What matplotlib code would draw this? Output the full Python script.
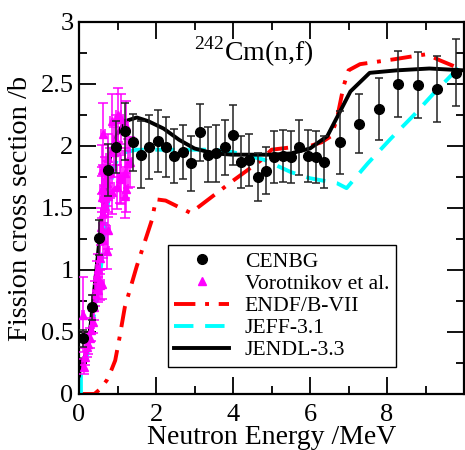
import matplotlib
matplotlib.use("Agg")
import matplotlib.pyplot as plt
from matplotlib.lines import Line2D
from matplotlib.ticker import MultipleLocator

plt.rcParams['font.family'] = ['Liberation Serif', 'DejaVu Serif']
plt.rcParams['mathtext.fontset'] = 'custom'
plt.rcParams['mathtext.rm'] = 'Liberation Serif'

# CENBG measurement
cenbg_e = [0.11, 0.34, 0.53, 0.75, 0.97, 1.19, 1.40, 1.62, 1.83, 2.05, 2.27, 2.48, 2.70,
           2.92, 3.14, 3.35, 3.57, 3.78, 4.00, 4.21, 4.42, 4.65, 4.87, 5.07, 5.29, 5.51,
           5.72, 5.94, 6.16, 6.37, 6.79, 7.28, 7.79, 8.29, 8.80, 9.29, 9.79]
cenbg_xs = [0.45, 0.70, 1.26, 1.81, 1.99, 2.12, 2.03, 1.93, 1.99, 2.04, 1.99, 1.92, 1.95,
            1.86, 2.11, 1.93, 1.94, 1.99, 2.09, 1.87, 1.89, 1.75, 1.80, 1.91, 1.92, 1.91,
            1.99, 1.92, 1.91, 1.87, 2.03, 2.18, 2.30, 2.50, 2.49, 2.46, 2.59]
cenbg_err = [0.07, 0.10, 0.14, 0.21, 0.21, 0.23, 0.23, 0.27, 0.26, 0.25, 0.24, 0.22, 0.22,
             0.22, 0.23, 0.22, 0.23, 0.22, 0.24, 0.21, 0.21, 0.19, 0.19, 0.21, 0.21, 0.21,
             0.22, 0.21, 0.21, 0.21, 0.255, 0.24, 0.25, 0.265, 0.265, 0.265, 0.27]

# Vorotnikov et al.
voro_e = [0.12, 0.16, 0.20, 0.24, 0.11, 0.28, 0.32, 0.36, 0.40, 0.42, 0.46, 0.50, 0.50,
          0.55, 0.59, 0.55, 0.63, 0.72, 0.58, 0.76, 0.63, 0.68, 0.59, 0.76, 0.59, 0.72,
          0.68, 0.85, 0.59, 0.80, 0.98, 1.06, 1.10, 1.19, 1.22, 1.28, 1.19, 1.32, 0.63,
          0.87, 1.02, 1.08, 1.22, 0.90, 0.75, 0.95]
voro_xs = [0.22, 0.30, 0.38, 0.40, 0.64, 0.45, 0.52, 0.58, 0.70, 0.81, 0.95, 1.01, 0.84,
           0.88, 0.89, 1.10, 1.24, 1.15, 1.35, 1.32, 1.46, 1.52, 1.59, 1.60, 1.65, 1.70,
           1.73, 1.63, 1.81, 1.78, 1.67, 1.74, 1.73, 1.60, 1.65, 1.86, 1.78, 1.87, 2.10,
           2.20, 2.25, 2.22, 2.16, 1.95, 1.90, 2.05]
voro_yerr = [0.06, 0.07, 0.08, 0.08, 0.30, 0.08, 0.09, 0.09, 0.10, 0.10, 0.12, 0.12, 0.10,
             0.12, 0.12, 0.13, 0.14, 0.14, 0.15, 0.15, 0.16, 0.16, 0.17, 0.17, 0.18, 0.18,
             0.18, 0.18, 0.20, 0.20, 0.18, 0.20, 0.20, 0.18, 0.18, 0.20, 0.20, 0.20, 0.25,
             0.22, 0.22, 0.20, 0.20, 0.20, 0.20, 0.20]
voro_xerr = [0.03, 0.03, 0.04, 0.04, 0.03, 0.04, 0.04, 0.04, 0.04, 0.05, 0.05, 0.05, 0.05,
             0.05, 0.05, 0.05, 0.05, 0.05, 0.05, 0.05, 0.05, 0.05, 0.05, 0.05, 0.05, 0.05,
             0.05, 0.05, 0.05, 0.05, 0.06, 0.06, 0.06, 0.06, 0.06, 0.06, 0.06, 0.06, 0.05,
             0.06, 0.06, 0.06, 0.06, 0.06, 0.05, 0.06]

# evaluations
endf_e = [0.0, 0.4, 0.55, 0.72, 0.85, 0.94, 1.05, 1.19, 1.5, 1.7, 1.89, 2.0, 2.25, 2.9,
          4.0, 4.75, 5.0, 5.8, 6.0, 6.3, 6.55, 6.7, 6.87, 7.0, 7.3, 7.75, 8.2, 8.6, 9.03,
          9.38, 10.0]
endf_xs = [0.0, 0.0, 0.04, 0.11, 0.2, 0.27, 0.45, 0.70, 1.03, 1.22, 1.40, 1.57, 1.56, 1.46,
           1.72, 1.89, 1.97, 2.0, 2.0, 2.03, 2.08, 2.22, 2.48, 2.61, 2.66, 2.68, 2.70, 2.72,
           2.74, 2.69, 2.61]

jeff_e = [0.05, 0.05, 0.1, 0.2, 0.3, 0.4, 0.5, 0.6, 0.7, 0.8, 0.9, 1.0, 1.2, 1.5, 3.5,
          4.0, 4.8, 5.5, 6.0, 6.7, 6.95, 7.5, 8.1, 8.7, 9.2, 9.7, 10.0]
jeff_xs = [0.0, 0.2, 0.25, 0.3, 0.45, 0.65, 0.85, 1.1, 1.4, 1.65, 1.82, 1.9, 1.95, 1.97,
           1.97, 1.95, 1.89, 1.79, 1.74, 1.70, 1.66, 1.86, 2.06, 2.25, 2.42, 2.58, 2.67]

jendl_e = [0.0, 0.05, 0.1, 0.2, 0.3, 0.4, 0.5, 0.6, 0.7, 0.8, 0.9, 1.0, 1.2, 1.5, 1.8,
           2.2, 2.6, 3.0, 3.5, 4.0, 5.0, 5.5, 6.0, 6.45, 6.75, 7.05, 7.55, 8.25, 9.1, 10.0]
jendl_xs = [0.15, 0.28, 0.25, 0.35, 0.55, 0.85, 1.15, 1.45, 1.72, 1.9, 2.02, 2.1, 2.2,
            2.23, 2.2, 2.14, 2.05, 1.98, 1.94, 1.93, 1.93, 1.94, 1.98, 2.08, 2.26, 2.44,
            2.59, 2.61, 2.625, 2.61]

x_ticks = [0, 2, 4, 6, 8]
y_ticks = [0, 0.5, 1, 1.5, 2, 2.5, 3]
y_ticklabels = ['0', '0.5', '1', '1.5', '2', '2.5', '3']

fig = plt.figure(figsize=(4.65, 4.5), dpi=100)
ax = fig.add_axes([79 / 465, 1 - 394 / 450, 385 / 465, 372 / 450])

lw = 2.8
ax.plot(endf_e, endf_xs, color='#ff0000', lw=lw, dashes=(5.5, 2.5, 1, 2.5),
        dash_capstyle='butt', zorder=2)
ax.plot(jeff_e, jeff_xs, color='#00ffff', lw=lw, dashes=(5, 3), dash_capstyle='butt', zorder=2)
ax.plot(jendl_e, jendl_xs, color='black', lw=lw, zorder=3)

ax.errorbar(voro_e, voro_xs, yerr=voro_yerr, xerr=voro_xerr, fmt='^', color='#ff00ff',
            ms=6, elinewidth=1.1, capsize=3.5, capthick=1.1, zorder=4)
ax.errorbar(cenbg_e, cenbg_xs, yerr=cenbg_err, fmt='o', color='black', ecolor='#222222',
            ms=7, elinewidth=1.1, capsize=3, capthick=1.1, zorder=5)

ax.set_xlim(0, 10)
ax.set_ylim(0, 3)
ax.set_xticks(x_ticks)
ax.xaxis.set_minor_locator(MultipleLocator(1))
ax.set_yticks(y_ticks)
ax.set_yticklabels(y_ticklabels)
ax.yaxis.set_minor_locator(MultipleLocator(0.25))
ax.tick_params(which='both', direction='in', top=True, right=True, labelsize=19, width=1.3)
ax.tick_params(which='major', length=12)
ax.tick_params(which='minor', length=6)
ax.tick_params(axis='x', pad=7)
ax.tick_params(axis='y', pad=4)
for s in ax.spines.values():
    s.set_linewidth(1.6)

ax.set_xlabel('Neutron Energy /MeV', fontsize=20)
ax.set_ylabel('Fission cross section /b', fontsize=20.5)
ax.xaxis.set_label_coords(0.5, -0.083)
ax.yaxis.set_label_coords(-0.119, 0.5)
ax.text(4.53, 2.69, r'$^{\mathrm{242}}$Cm(n,f)', fontsize=20, ha='center', va='baseline')

handles = [
    Line2D([], [], ls='none', marker='o', color='black', ms=7),
    Line2D([], [], ls='none', marker='^', color='#ff00ff', ms=6),
    Line2D([], [], color='#ff0000', lw=lw, dashes=(5.5, 2.5, 1, 2.5), dash_capstyle='butt'),
    Line2D([], [], color='#00ffff', lw=lw, dashes=(5, 3), dash_capstyle='butt'),
    Line2D([], [], color='black', lw=lw),
]
labels = ['CENBG', 'Vorotnikov et al.', 'ENDF/B-VII', 'JEFF-3.1', 'JENDL-3.3']
leg = ax.legend(handles, labels, loc='upper left', bbox_to_anchor=(0.231, 0.40),
                borderaxespad=0, fontsize=15.6, handlelength=2.5, handletextpad=0.74,
                labelspacing=0.09, fancybox=False, framealpha=1, borderpad=0.3)
leg.get_frame().set_edgecolor('black')
leg.get_frame().set_linewidth(1.0)

fig.savefig('out.png', dpi=100)
